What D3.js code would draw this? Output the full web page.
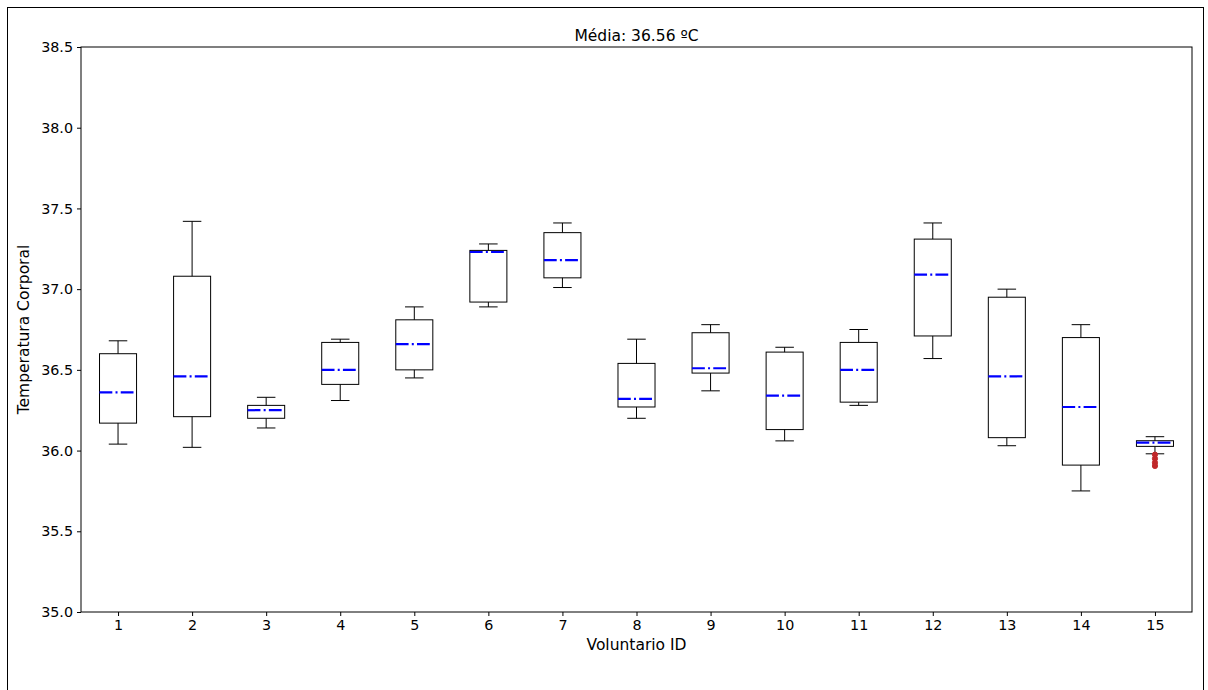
<!DOCTYPE html>
<html>
<head>
<meta charset="utf-8">
<script src="https://cdn.jsdelivr.net/npm/d3@7"></script>
<style>
  body { margin: 0; background: #fff; }
  svg { display: block; font-family: "DejaVu Sans", sans-serif; }
</style>
</head>
<body>
<div id="box_chart"></div>
<script>
// --------------------------------------
//  Data
// --------------------------------------

const ids = [1, 2, 3, 4, 5, 6, 7, 8, 9, 10, 11, 12, 13, 14, 15];
const whiskerHigh = [36.68, 37.42, 36.33, 36.69, 36.89, 37.28, 37.41, 36.69, 36.78, 36.64, 36.75, 37.41, 37.00, 36.78, 36.086];
const q3 = [36.60, 37.08, 36.28, 36.67, 36.81, 37.24, 37.35, 36.54, 36.73, 36.61, 36.67, 37.31, 36.95, 36.70, 36.061];
const medians = [36.36, 36.46, 36.25, 36.50, 36.66, 37.23, 37.18, 36.32, 36.51, 36.34, 36.50, 37.09, 36.46, 36.27, 36.049];
const q1 = [36.17, 36.21, 36.20, 36.41, 36.50, 36.92, 37.07, 36.27, 36.48, 36.13, 36.30, 36.71, 36.08, 35.91, 36.026];
const whiskerLow = [36.04, 36.02, 36.14, 36.31, 36.45, 36.89, 37.01, 36.20, 36.37, 36.06, 36.28, 36.57, 36.03, 35.75, 35.98];
const outliers = [{ id: 15, v: 35.975 }, { id: 15, v: 35.95 }, { id: 15, v: 35.925 }, { id: 15, v: 35.905 }];
const yTicks = [35.0, 35.5, 36.0, 36.5, 37.0, 37.5, 38.0, 38.5];
const meanLabel = "Média: 36.56 ºC";

const boxes = ids.map((id, i) => ({
  id, hi: whiskerHigh[i], q3: q3[i], med: medians[i], q1: q1[i], lo: whiskerLow[i]
}));

// --------------------------------------
//  Canvas
// --------------------------------------

const width = 1208, height = 690;
const margin = { top: 47, right: 16, bottom: 78, left: 81 };
const innerwidth = width - margin.left - margin.right;
const innerheight = height - margin.top - margin.bottom;

const svg = d3.select("#box_chart")
  .append("svg")
  .attr("width", width)
  .attr("height", height);

// figure frame
svg.append("rect")
  .attr("x", 7.5).attr("y", 7.5)
  .attr("width", 1196).attr("height", 700)
  .attr("fill", "none")
  .attr("stroke", "#000")
  .attr("stroke-width", 1);

const inner = svg.append("g")
  .attr("transform", `translate(${margin.left}, ${margin.top})`);

const x = d3.scaleLinear().domain([0.5, 15.5]).range([0, innerwidth]);
const y = d3.scaleLinear().domain([35, 38.5]).range([innerheight, 0]);
const boxW = (x(2) - x(1)) * 0.5;
const capW = boxW * 0.5;

// --------------------------------------
//  Axes
// --------------------------------------

const xAxis = inner.append("g")
  .attr("transform", `translate(0, ${innerheight})`)
  .call(d3.axisBottom(x).tickValues(ids).tickFormat(d3.format("d")).tickSize(4).tickPadding(4));

const yAxis = inner.append("g")
  .call(d3.axisLeft(y).tickValues(yTicks).tickFormat(d3.format(".1f")).tickSize(4).tickPadding(4));

[xAxis, yAxis].forEach(a => {
  a.select(".domain").remove();
  a.selectAll("text").attr("font-size", 14.3).attr("fill", "#000").attr("font-family", "DejaVu Sans");
  a.selectAll("line").attr("stroke", "#000");
});

inner.append("rect")
  .attr("width", innerwidth).attr("height", innerheight)
  .attr("fill", "none").attr("stroke", "#000").attr("stroke-width", 1);

// --------------------------------------
//  Boxes
// --------------------------------------

const g = inner.selectAll("g.box")
  .data(boxes)
  .join("g")
  .attr("class", "box");

g.append("line")
  .attr("x1", d => x(d.id)).attr("x2", d => x(d.id))
  .attr("y1", d => y(d.hi)).attr("y2", d => y(d.q3))
  .attr("stroke", "#000");
g.append("line")
  .attr("x1", d => x(d.id)).attr("x2", d => x(d.id))
  .attr("y1", d => y(d.q1)).attr("y2", d => y(d.lo))
  .attr("stroke", "#000");
g.append("line")
  .attr("x1", d => x(d.id) - capW / 2).attr("x2", d => x(d.id) + capW / 2)
  .attr("y1", d => y(d.hi)).attr("y2", d => y(d.hi))
  .attr("stroke", "#000");
g.append("line")
  .attr("x1", d => x(d.id) - capW / 2).attr("x2", d => x(d.id) + capW / 2)
  .attr("y1", d => y(d.lo)).attr("y2", d => y(d.lo))
  .attr("stroke", "#000");
g.append("rect")
  .attr("x", d => x(d.id) - boxW / 2)
  .attr("y", d => y(d.q3))
  .attr("width", boxW)
  .attr("height", d => y(d.q1) - y(d.q3))
  .attr("fill", "none")
  .attr("stroke", "#000");
g.append("line")
  .attr("x1", d => x(d.id) - boxW / 2).attr("x2", d => x(d.id) + boxW / 2)
  .attr("y1", d => y(d.med)).attr("y2", d => y(d.med))
  .attr("stroke", "#0000ff")
  .attr("stroke-width", 2.2)
  .attr("stroke-dasharray", "12.8,3.2,2,3.2");

inner.selectAll("circle.flier")
  .data(outliers)
  .join("circle")
  .attr("class", "flier")
  .attr("cx", d => x(d.id))
  .attr("cy", d => y(d.v))
  .attr("r", 2.6)
  .attr("fill", "#c0282a")
  .attr("stroke", "#c0282a");

// --------------------------------------
//  Labels
// --------------------------------------

svg.append("text")
  .attr("x", margin.left + innerwidth / 2).attr("y", 41)
  .attr("text-anchor", "middle").attr("font-size", 15.5)
  .text(meanLabel);

svg.append("text")
  .attr("x", margin.left + innerwidth / 2).attr("y", 650)
  .attr("text-anchor", "middle").attr("font-size", 15.5)
  .text("Voluntario ID");

svg.append("text")
  .attr("transform", `translate(29, ${margin.top + innerheight / 2}) rotate(-90)`)
  .attr("text-anchor", "middle").attr("font-size", 15.5)
  .text("Temperatura Corporal");
</script>
</body>
</html>
